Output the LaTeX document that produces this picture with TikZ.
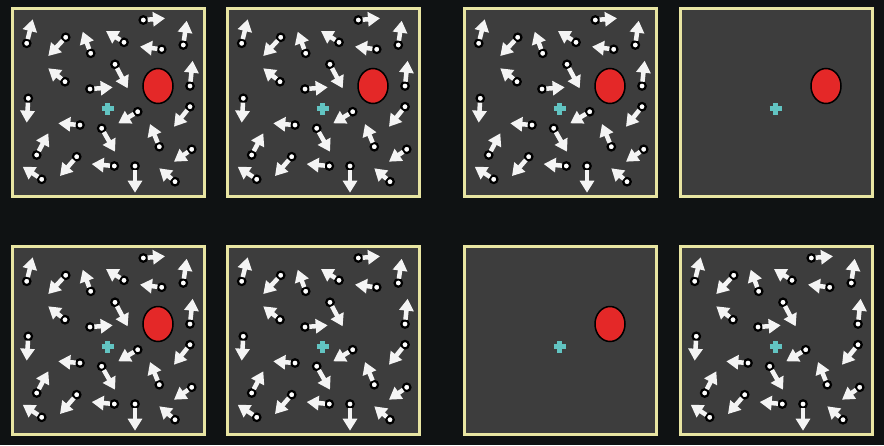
\documentclass[tikz,border=0pt]{standalone}
\usepackage{tikz}
\usetikzlibrary{arrows.meta,shapes.geometric}
\definecolor{screenblack}{HTML}{0F1213}
\definecolor{panelgray}{HTML}{3D3D3D}
\definecolor{frameyellow}{HTML}{E8E5A2}
\definecolor{targetred}{HTML}{E42828}
\definecolor{fixcyan}{HTML}{62C4C2}
\definecolor{dotwhite}{HTML}{F4F4F4}

% moving dots: tail x/y, head x/y inside one panel
\newcommand{\dotfield}[1]{%
  \foreach \tx/\ty/\hx/\hy [count=\i] in {
    14.7/35.3/20.7/11.3, 131.3/12/153/10.3, 171.3/37/174.7/12.7,
    53.7/29.3/36.3/48, 78.7/45.3/70.7/23.7, 112/34.3/94/23,
    149.7/41.3/128/38.7, 178/78/180.7/52.7, 53/73.7/36.3/60.3,
    103/56.3/115.7/80.3, 78/81/100.7/79.3, 16.3/90.3/14.7/114.7,
    125.7/103.7/106.3/115.3, 178/98.7/162/118.7, 68/117/46.3/115.3,
    89.7/120.3/103/143.7, 147.3/138.7/138/116, 24.7/147/36.3/125.3,
    179.7/141.3/162/153.7, 64.7/148.7/48/168, 102.3/158/79.7/156,
    29.7/171.3/10.7/158.7, 123/158/123/184.7, 163/173.7/147.3/160.3}{
    \node[tailring] (#1t\i) at (\tx,\ty) {};
    \coordinate (#1h\i) at (\hx,\hy);
    \draw[motion] (#1t\i) -- (#1h\i);
  }}
\newcommand{\screen}{%
  \fill[panelgray] (0,0) rectangle (192,188);
  \draw[frame] (0,0) rectangle (192,188);}
\newcommand{\fixation}[1]{%
  \coordinate (#1) at (95.5,100.5);
  \draw[fixcyan,line width=4.5pt] ([xshift=-6pt]#1) -- ([xshift=6pt]#1)
    ([yshift=-6pt]#1) -- ([yshift=6pt]#1);}

\begin{document}
\begin{tikzpicture}[
  x=1pt,y=-1pt,
  frame/.style={draw=frameyellow,line width=3pt},
  tailring/.style={circle,draw=black,fill=white,line width=2.2pt,
    minimum size=7.5pt,inner sep=0pt},
  motion/.style={-{Triangle[width=14pt,length=12pt]},line width=4.5pt,
    draw=dotwhite,fill=dotwhite,shorten <=-0.5pt},
  target/.style={ellipse,draw=black,fill=targetred,line width=1.5pt,
    minimum width=30pt,minimum height=35pt,inner sep=0pt}
]
\fill[screenblack] (0,0) rectangle (884,445);

% top row
\begin{scope}[shift={(12,8)}]
  \screen \dotfield{a}
  \node[target] (ta) at (146,78) {};
  \fixation{fa}
\end{scope}
\begin{scope}[shift={(227,8)}]
  \screen \dotfield{b}
  \node[target] (tb) at (146,78) {};
  \fixation{fb}
\end{scope}
\begin{scope}[shift={(464,8)}]
  \screen \dotfield{c}
  \node[target] (tc) at (146,78) {};
  \fixation{fc}
\end{scope}
\begin{scope}[shift={(680,8)}]
  \screen
  \node[target] (td) at (146,78) {};
  \fixation{fd}
\end{scope}

% bottom row
\begin{scope}[shift={(12,246)}]
  \screen \dotfield{e}
  \node[target] (te) at (146,78) {};
  \fixation{fe}
\end{scope}
\begin{scope}[shift={(227,246)}]
  \screen \dotfield{f}
  \fixation{ff}
\end{scope}
\begin{scope}[shift={(464,246)}]
  \screen
  \node[target] (tg) at (146,78) {};
  \fixation{fg}
\end{scope}
\begin{scope}[shift={(680,246)}]
  \screen \dotfield{h}
  \fixation{fh}
\end{scope}
\end{tikzpicture}
\end{document}
